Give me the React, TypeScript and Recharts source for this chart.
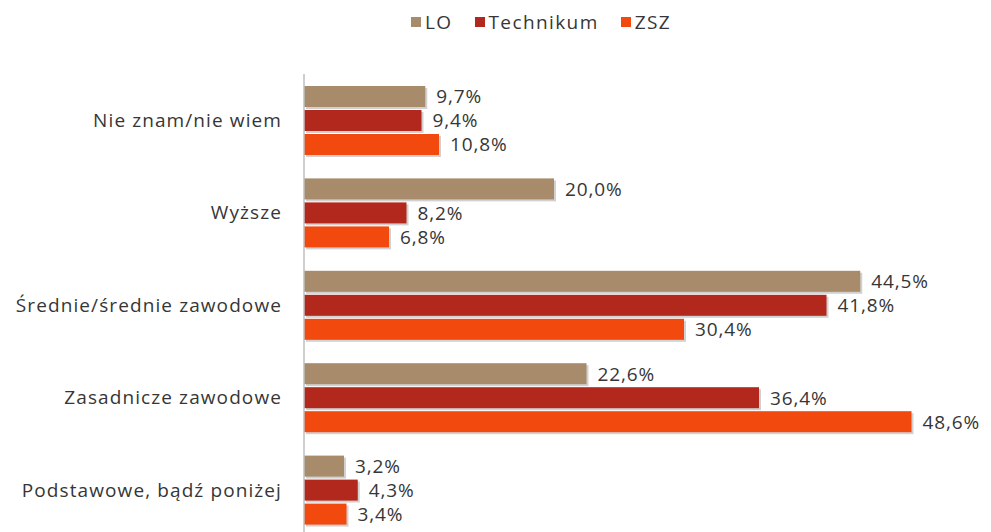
import * as React from 'react';
import { BarChart, Bar, XAxis, YAxis, Legend, LabelList } from 'recharts';

const categories = ['Nie znam/nie wiem', 'Wyższe', 'Średnie/średnie zawodowe', 'Zasadnicze zawodowe', 'Podstawowe, bądź poniżej'];
const loValues = [9.7, 20.0, 44.5, 22.6, 3.2];
const technikumValues = [9.4, 8.2, 41.8, 36.4, 4.3];
const zszValues = [10.8, 6.8, 30.4, 48.6, 3.4];
const seriesNames = ['LO', 'Technikum', 'ZSZ'];

const colors = ['#A88B6A', '#B3281D', '#F2490F'];
const textColor = '#363636';
const font = '"Open Sans", sans-serif';

const data = categories.map((name, i) => ({
    name,
    LO: loValues[i],
    Technikum: technikumValues[i],
    ZSZ: zszValues[i],
}));

const fmt = (v: number) => v.toFixed(1).replace('.', ',') + '%';

// bar with a soft drop shadow like the excel original
const ShadowBar = (props: any) => {
    const { x, y, width, height, fill } = props;
    if (!width || width <= 0) return null;
    return (
        <g>
            <rect x={x + 2} y={y + 2} width={width} height={height} fill="rgba(0,0,0,0.18)" />
            <rect x={x} y={y} width={width} height={height} fill={fill} />
        </g>
    );
};

const ValueLabel = (props: any) => {
    const { x, y, width, height, value } = props;
    return (
        <text x={x + width + 11} y={y + height / 2} dy="0.36em" fill={textColor}
            fontSize={19} fontFamily={font} style={{ letterSpacing: 0.9 }}>
            {fmt(value)}
        </text>
    );
};

const LegendContent = () => (
    <div style={{ display: 'flex', alignItems: 'center', fontFamily: font, fontSize: 19, color: textColor, letterSpacing: 1.4 }}>
        {seriesNames.map((n, i) => (
            <div key={n} style={{ display: 'flex', alignItems: 'center', marginRight: 22 }}>
                <span style={{ display: 'inline-block', width: 10, height: 10, background: colors[i], marginRight: 4 }} />
                <span>{n}</span>
            </div>
        ))}
    </div>
);

export default function App() {
    return (
        <div style={{ position: 'absolute', left: 0, top: 0, width: 991, height: 532, overflow: 'hidden', background: '#fff' }}>
            <BarChart width={991} height={536} data={data} layout="vertical"
                margin={{ top: 48, right: 62, left: 0, bottom: 0 }}
                barSize={21} barGap={3}>
                <XAxis type="number" domain={[0, 50]} hide />
                <YAxis type="category" dataKey="name" width={304} tickLine={false} tickSize={0} tickMargin={22}
                    axisLine={{ stroke: '#BFBFBF', strokeWidth: 1.5 }}
                    tick={{ fill: textColor, fontSize: 19, fontFamily: font, style: { letterSpacing: 1.1 } }} />
                <Legend verticalAlign="top" content={<LegendContent />}
                    wrapperStyle={{ top: 9, left: 411, width: 'auto' }} />
                {seriesNames.map((s, i) => (
                    <Bar key={s} dataKey={s} fill={colors[i]} shape={<ShadowBar />} isAnimationActive={false}>
                        <LabelList dataKey={s} content={<ValueLabel />} />
                    </Bar>
                ))}
            </BarChart>
        </div>
    );
}
